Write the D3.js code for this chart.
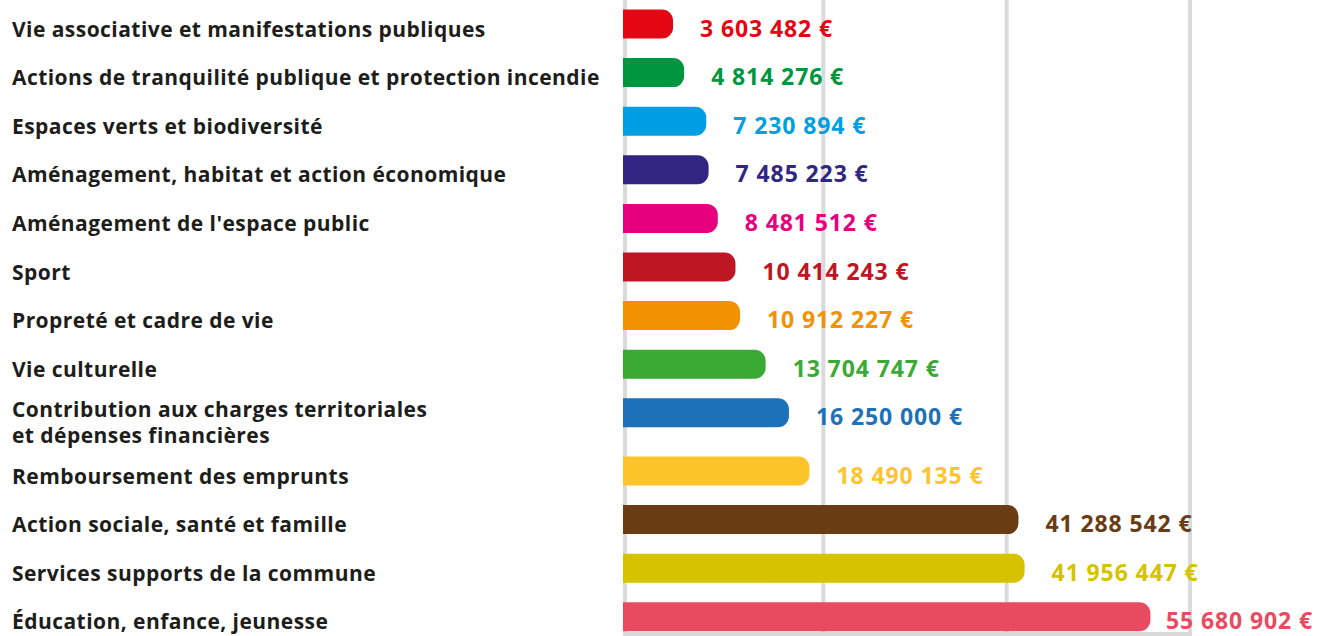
<!DOCTYPE html>
<html lang="fr">
<head>
<meta charset="utf-8">
<script src="https://cdn.jsdelivr.net/npm/d3@7"></script>
<style>
  body { margin: 0; background: #fff; }
  svg { display: block; font-family: "Open Sans", Lato, sans-serif; }
</style>
</head>
<body>
<div id="chart"></div>
<script>
// budget par politique publique
const categories = [
  "Vie associative et manifestations publiques",
  "Actions de tranquilité publique et protection incendie",
  "Espaces verts et biodiversité",
  "Aménagement, habitat et action économique",
  "Aménagement de l'espace public",
  "Sport",
  "Propreté et cadre de vie",
  "Vie culturelle",
  "Contribution aux charges territoriales\net dépenses financières",
  "Remboursement des emprunts",
  "Action sociale, santé et famille",
  "Services supports de la commune",
  "Éducation, enfance, jeunesse"
];
const values = [3603482, 4814276, 7230894, 7485223, 8481512, 10414243, 10912227,
  13704747, 16250000, 18490135, 41288542, 41956447, 55680902];
const colors = ["#e30613", "#009640", "#009fe3", "#312783", "#e6007e", "#be1622", "#f39200",
  "#3aaa35", "#1d71b8", "#fdc52a", "#693c14", "#d6c200", "#e84b5f"];
const gridTicks = [20e6, 40e6, 60e6];

const width = 1317, height = 636;
const x0 = 623;          // bar start
const barH = 29, rowStep = 48.6, topY = 9.5, extraLine = 9.6;

const data = categories.map((c, i) => ({ cat: c, value: values[i], color: colors[i] }));

const svg = d3.select("#chart").append("svg")
  .attr("width", width)
  .attr("height", height);

const x = d3.scaleLinear().domain([0, 60e6]).range([640, 1190]);
const y = d3.scaleBand().domain(categories).range([topY, topY + categories.length * rowStep]);

// extra space after each two-line label
let shift = 0;
data.forEach(d => {
  d.lines = d.cat.split("\n");
  d.top = y(d.cat) + shift;
  shift += (d.lines.length - 1) * extraLine;
});

const fr = d3.formatLocale({ decimal: ",", thousands: " ", grouping: [3], currency: ["", " €"] });
const fmt = v => fr.format(",")(v) + " €";

// grid
const grid = svg.append("g").attr("fill", "#dadada");
grid.append("rect").attr("x", x0).attr("y", 0).attr("width", 4).attr("height", height);
grid.selectAll(".gl").data(gridTicks).enter().append("rect")
  .attr("x", d => x(d) - 2).attr("y", 0).attr("width", 4).attr("height", height);
grid.append("rect").attr("x", x0).attr("y", 632)
  .attr("width", x(gridTicks[gridTicks.length - 1]) + 2 - x0).attr("height", 4);

// bars, square left, rounded right
const r = 11;
const barPath = d => {
  const x1 = x(d.value), y0 = d.top, y1 = d.top + barH;
  return `M${x0},${y0}H${x1 - r}A${r},${r} 0 0 1 ${x1},${y0 + r}V${y1 - r}A${r},${r} 0 0 1 ${x1 - r},${y1}H${x0}Z`;
};
svg.append("g").selectAll("path").data(data).enter().append("path")
  .attr("d", barPath)
  .attr("fill", d => d.color);

// value labels (kept inside the picture)
svg.append("g").selectAll("text").data(data).enter().append("text")
  .attr("y", d => d.top + barH - 2)
  .attr("fill", d => d.color)
  .style("font-size", "23px")
  .style("font-weight", 700)
  .style("letter-spacing", "0.9px")
  .text(d => fmt(d.value))
  .each(function(d) {
    const w = this.getComputedTextLength();
    d3.select(this).attr("x", Math.min(x(d.value) + 27, width - 4 - w));
  });

// category labels
const cl = svg.append("g").selectAll("text").data(data).enter().append("text")
  .attr("x", 12)
  .attr("y", d => d.top + 27 - (d.lines.length - 1) * 8.5)
  .attr("fill", "#1d1d1b")
  .style("font-size", "21px")
  .style("font-weight", 700)
  .style("letter-spacing", "0.45px");
cl.selectAll("tspan").data(d => d.lines).enter().append("tspan")
  .attr("x", 12)
  .attr("dy", (d, i) => i ? 26 : 0)
  .text(d => d);
</script>
</body>
</html>
